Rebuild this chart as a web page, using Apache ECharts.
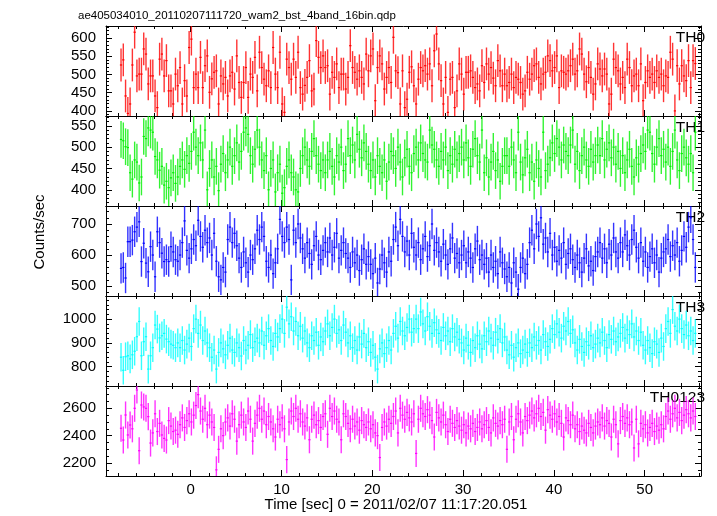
<!DOCTYPE html>
<html><head><meta charset="utf-8">
<script src="https://cdn.jsdelivr.net/npm/echarts@6/dist/echarts.min.js"></script>
<style>html,body{margin:0;padding:0;background:#fff}#c{width:717px;height:516px}</style>
</head><body><div id="c"></div>
<script>
const titleText = 'ae405034010_20110207111720_wam2_bst_4band_16bin.qdp';
const xTitle = 'Time [sec] 0 = 2011/02/07 11:17:20.051';
const yTitle = 'Counts/sec';
const bandNames = ['TH0', 'TH1', 'TH2', 'TH3', 'TH0123'];
const bandColors = ['#ff0000', '#00f000', '#0000ff', '#00ffff', '#ff00ff'];
const binStart = -7.8;
const binWidth = 0.25;
const xRange = [-9.33, 56.2];
const xMajorTicks = [0, 10, 20, 30, 40, 50];
const xMinorTicks = [-8, -6, -4, -2, 2, 4, 6, 8, 12, 14, 16, 18, 22, 24, 26, 28, 32, 34, 36, 38, 42, 44, 46, 48, 52, 54, 56];

const yRanges = [[386, 633], [362, 573], [468, 758], [719, 1097], [2105, 2763]];
const yMajorTicks = [
  [400, 450, 500, 550, 600],
  [400, 450, 500, 550],
  [500, 600, 700],
  [800, 900, 1000],
  [2200, 2400, 2600]
];
const yMinorStep = [10, 10, 20, 20, 50];
const bandErrors = [45, 43, 49, 60, 99];

const th0 = [
526,540,441,393,419,526,616,496,501,501,
570,556,474,496,496,441,409,542,556,496,
538,455,455,419,501,469,519,419,483,441,
574,597,464,501,464,547,464,524,551,451,488,
506,510,419,496,474,492,441,496,506,460,
551,478,437,478,519,437,501,492,547,455,
561,519,487,469,510,464,574,501,464,561,
419,396,542,519,487,542,492,561,464,446,470,
492,538,455,460,593,547,519,551,519,524,
446,506,492,529,464,501,501,460,492,579,
519,506,487,510,492,474,556,510,551,570,
428,519,551,529,460,492,519,478,602,510,505,
419,
510,409,432,506,521,469,419,487,519,510,
524,501,529,469,565,611,529,483,419,492,
396,487,492,409,455,529,501,446,506,506,
510,492,464,474,455,524,478,529,501,519,490,
469,538,510,469,501,469,478,501,464,492,
487,478,446,455,506,487,501,524,529,492,
474,501,506,551,538,510,519,551,464,510,
506,501,510,524,542,501,510,570,556,501,480,
519,492,446,474,529,515,496,515,501,419,
446,542,519,510,474,492,464,542,519,469,
496,501,469,529,428,478,510,492,501,478,
510,492,501,469,496,492,561,542,400,524,
474,524,496,483,538,464,538,530
];
const th1 = [
518,515,501,499,440,425,470,465,416,430,
525,520,545,540,535,478,470,446,455,411,
420,405,428,440,415,430,455,470,448,480,
462,490,535,500,480,510,470,540,400,450,
470,430,455,398,460,485,440,470,500,455,
480,510,465,490,535,545,530,480,460,495,
540,500,470,445,480,400,450,470,395,440,
460,392,405,455,470,440,430,400,395,450,
480,500,470,455,490,520,480,460,445,470,
440,470,490,455,430,480,465,500,445,460,
520,480,505,470,530,495,475,510,490,460,
445,470,430,480,455,440,470,420,465,490,
480,450,500,465,430,475,495,455,440,485,
500,470,510,485,470,465,540,505,495,470,
455,490,470,500,445,480,460,495,470,485,
500,470,510,475,455,495,520,480,465,540,
440,475,430,465,490,445,470,420,455,480,
480,455,500,470,440,535,465,435,475,495,
440,465,420,470,450,430,535,445,460,475,
510,485,520,500,470,505,490,480,505,540,
460,490,445,480,500,470,455,495,465,480,
505,480,520,470,495,510,475,500,460,490,
450,480,440,470,495,455,430,475,460,485,
505,490,540,535,485,460,500,520,480,495,
465,500,455,490,540,470,445,485,500,475,
460,485,440,535
];
const th2 = [
557,560,526,643,643,648,675,690,707,579,
638,574,546,627,600,530,675,640,606,579,
585,579,627,610,585,580,600,640,710,615,
590,620,650,630,712,660,625,680,640,655,
600,670,580,530,520,560,545,650,690,640,
670,630,590,560,610,575,545,600,585,620,
680,650,690,660,580,560,600,540,575,620,
715,660,640,690,650,520,680,640,700,655,
620,590,640,605,570,630,660,600,585,615,
640,610,655,600,625,670,590,615,640,605,
590,560,610,575,600,550,585,620,570,595,
570,540,590,510,555,600,575,545,610,580,
650,690,630,715,660,610,645,600,670,625,
600,640,585,620,660,595,630,700,615,640,
610,580,635,600,570,620,655,590,605,575,
600,630,575,610,590,560,620,645,585,600,
570,590,545,600,560,580,540,610,575,555,
530,560,510,575,545,490,560,590,540,570,
640,680,620,700,660,720,635,655,610,670,
600,625,580,615,590,640,570,605,620,585,
560,600,575,545,590,620,565,580,550,595,
610,640,590,620,575,635,600,655,610,590,
640,610,665,630,600,650,680,625,590,640,
580,610,560,595,620,575,600,545,590,610,
620,650,595,630,600,640,580,615,660,625,
690,720,650,560
];
const th3 = [
840,785,842,846,833,850,865,926,990,846,
905,926,790,846,880,975,958,921,930,940,
916,905,895,890,880,900,880,910,870,895,
920,885,960,1000,940,975,910,950,900,880,
840,870,790,860,900,875,850,890,920,870,
860,900,880,845,910,870,890,935,880,905,
920,900,950,890,930,960,910,885,940,925,
960,1000,940,1050,980,1010,950,990,930,970,
920,950,900,880,930,910,945,890,925,905,
950,980,930,965,1000,940,955,910,975,945,
900,930,880,910,870,925,895,940,880,905,
860,890,840,790,875,900,855,880,910,870,
940,970,920,990,950,930,965,1000,945,960,
1000,960,1030,980,950,1010,970,940,985,955,
940,910,965,930,950,905,960,925,945,915,
900,870,920,890,860,910,880,930,895,875,
930,905,950,920,890,945,915,960,900,925,
870,850,890,840,880,900,855,870,895,860,
900,880,925,890,910,870,935,905,885,915,
960,935,980,945,920,970,950,990,940,955,
900,870,915,885,860,905,890,930,880,895,
920,900,945,910,880,935,915,950,905,925,
940,965,920,955,935,980,925,950,910,945,
890,870,910,880,855,905,895,860,920,885,
960,990,940,1040,970,950,1000,960,935,975,
930,950,910,940
];
const th0123 = [
2454,2368,2551,2405,2478,2450,2600,2734,2290,2624,
2610,2600,2539,2346,2420,2560,2430,2490,2405,2380,
2368,2510,2470,2430,2440,2410,2480,2530,2460,2510,
2560,2500,2550,2620,2700,2580,2520,2600,2480,2550,
2500,2460,2150,2300,2450,2400,2500,2530,2470,2560,
2520,2360,2480,2550,2500,2460,2580,2520,2360,2490,
2550,2600,2520,2580,2480,2540,2500,2450,2390,2520,
2480,2530,2450,2225,2500,2580,2540,2600,2520,2560,
2500,2470,2530,2370,2520,2550,2480,2510,2460,2540,
2560,2410,2600,2540,2580,2520,2500,2370,2560,2540,
2490,2450,2520,2470,2500,2440,2510,2480,2460,2500,
2450,2480,2420,2400,2240,2460,2500,2470,2520,2490,
2540,2580,2420,2600,2550,2520,2570,2530,2500,2560,
2270,2520,2600,2560,2540,2590,2550,2510,2390,2570,
2530,2500,2550,2480,2430,2520,2490,2460,2510,2470,
2440,2480,2420,2470,2450,2490,2430,2460,2500,2450,
2480,2510,2460,2420,2530,2490,2470,2510,2480,2520,
2300,2500,2540,2370,2520,2560,2500,2420,2540,2510,
2550,2580,2530,2560,2600,2540,2570,2440,2590,2550,
2520,2560,2500,2540,2490,2390,2530,2510,2480,2550,
2450,2480,2430,2470,2440,2420,2490,2460,2420,2470,
2500,2480,2530,2470,2510,2490,2390,2520,2480,2340,
2510,2540,2490,2530,2480,2500,2310,2520,2340,2490,
2450,2480,2420,2460,2490,2430,2470,2440,2480,2450,
2540,2580,2520,2560,2600,2530,2570,2510,2550,2590,
2560,2530,2580,2540
];
const bandValues = [th0, th1, th2, th3, th0123];

const panelTop = 26, panelH = 90, panelLeft = 106, panelRight = 16;
const font = '"Liberation Sans", Arial, Helvetica, sans-serif';

function range(a, b, s) { const r = []; for (let v = a; v <= b + 1e-9; v += s) r.push(v); return r; }
const plain = v => String(v);

const grids = [], xAxes = [], yAxes = [], series = [], graphics = [];
for (let i = 0; i < 5; i++) {
  grids.push({ left: panelLeft, right: panelRight, top: panelTop + panelH * i, height: panelH, containLabel: false });
  const [ymin, ymax] = yRanges[i];
  const minorY = range(Math.ceil(ymin / yMinorStep[i]) * yMinorStep[i], ymax, yMinorStep[i]).filter(v => !yMajorTicks[i].includes(v));
  const lineStyle = { color: '#000', width: 1 };
  const xBase = { type: 'value', gridIndex: i, min: xRange[0], max: xRange[1], splitLine: { show: false } };
  xAxes.push(Object.assign({}, xBase, { position: 'bottom', axisLine: { show: true, lineStyle, onZero: false },
    axisTick: { show: true, inside: true, length: 6, lineStyle, customValues: xMajorTicks },
    axisLabel: { show: i === 4, customValues: xMajorTicks, formatter: plain, color: '#000', fontSize: 15, fontFamily: font, margin: 6 } }));
  xAxes.push(Object.assign({}, xBase, { position: 'bottom', axisLine: { show: false, onZero: false },
    axisTick: { show: true, inside: true, length: 3, lineStyle, customValues: xMinorTicks }, axisLabel: { show: false } }));
  xAxes.push(Object.assign({}, xBase, { position: 'top', axisLine: { show: true, lineStyle, onZero: false },
    axisTick: { show: true, inside: true, length: 6, lineStyle, customValues: xMajorTicks }, axisLabel: { show: false } }));
  xAxes.push(Object.assign({}, xBase, { position: 'top', axisLine: { show: false, onZero: false },
    axisTick: { show: true, inside: true, length: 3, lineStyle, customValues: xMinorTicks }, axisLabel: { show: false } }));
  const yBase = { type: 'value', gridIndex: i, min: ymin, max: ymax, splitLine: { show: false } };
  yAxes.push(Object.assign({}, yBase, { position: 'left', axisLine: { show: true, lineStyle, onZero: false },
    axisTick: { show: true, inside: true, length: 6, lineStyle, customValues: yMajorTicks[i] },
    axisLabel: { show: true, customValues: yMajorTicks[i], formatter: plain, color: '#000', fontSize: 15, fontFamily: font, margin: 10 } }));
  yAxes.push(Object.assign({}, yBase, { position: 'left', axisLine: { show: false, onZero: false },
    axisTick: { show: true, inside: true, length: 3, lineStyle, customValues: minorY }, axisLabel: { show: false } }));
  yAxes.push(Object.assign({}, yBase, { position: 'right', axisLine: { show: true, lineStyle, onZero: false },
    axisTick: { show: true, inside: true, length: 6, lineStyle, customValues: yMajorTicks[i] }, axisLabel: { show: false } }));
  yAxes.push(Object.assign({}, yBase, { position: 'right', axisLine: { show: false, onZero: false },
    axisTick: { show: true, inside: true, length: 3, lineStyle, customValues: minorY }, axisLabel: { show: false } }));

  const color = bandColors[i];
  const err = bandErrors[i];
  const data = bandValues[i].map((v, k) => [binStart + binWidth * (k + 0.5), v, err]);
  series.push({
    type: 'custom', xAxisIndex: i * 4, yAxisIndex: i * 4, data, silent: true, animation: false,
    renderItem: function (params, api) {
      const cs = params.coordSys;
      const clampY = y => Math.max(cs.y, Math.min(cs.y + cs.height, y));
      const t = api.value(0), v = api.value(1), e = api.value(2);
      const a = api.coord([t - binWidth / 2, v]);
      const b = api.coord([t + binWidth / 2, v]);
      const top = api.coord([t, v + e]);
      const bot = api.coord([t, v - e]);
      const children = [{ type: 'line', shape: { x1: top[0], y1: clampY(top[1]), x2: bot[0], y2: clampY(bot[1]) },
        style: { stroke: color, lineWidth: 1.4, opacity: 0.8 } }];
      if (a[1] >= cs.y && a[1] <= cs.y + cs.height) {
        children.push({ type: 'line', shape: { x1: a[0], y1: a[1], x2: b[0], y2: b[1] }, style: { stroke: color, lineWidth: 1.2 } });
      }
      return { type: 'group', children };
    }
  });
  graphics.push({ type: 'text', right: 12, top: panelTop + panelH * i + 4,
    style: { text: bandNames[i], font: '15.5px ' + font, fill: '#000' } });
}
graphics.push({ type: 'text', left: 78, top: 10, style: { text: titleText, font: '11.5px ' + font, fill: '#000' } });
graphics.push({ type: 'text', x: 396, y: 505, style: { text: xTitle, font: '15px ' + font, fill: '#000', textAlign: 'center', textVerticalAlign: 'middle' } });
graphics.push({ type: 'text', x: 40, y: 232, rotation: Math.PI / 2, style: { text: yTitle, font: '15px ' + font, fill: '#000', textAlign: 'center', textVerticalAlign: 'middle' } });

const chart = echarts.init(document.getElementById('c'), null, { renderer: 'canvas' });
chart.setOption({ animation: false, backgroundColor: '#fff', grid: grids, xAxis: xAxes, yAxis: yAxes, series, graphic: graphics });
</script></body></html>
